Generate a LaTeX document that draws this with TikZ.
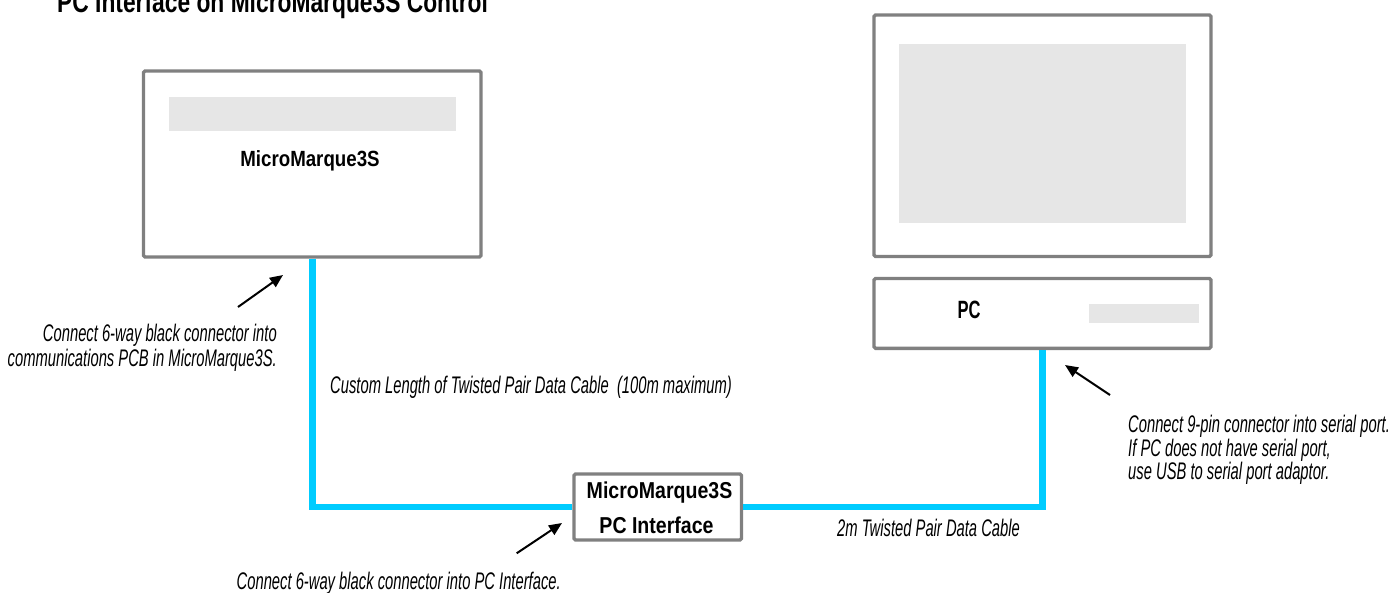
\documentclass[tikz,border=0pt]{standalone}
\usepackage{fontspec}
\setmainfont{Liberation Sans}
\newfontfamily\notefont{Liberation Sans}[FakeStretch=0.615]
\newfontfamily\condbold{Liberation Sans}[FakeStretch=0.85]
\newfontfamily\titlebold{Liberation Sans}[FakeStretch=0.76]
\newfontfamily\narrowbold{Liberation Sans}[FakeStretch=0.66]
\usetikzlibrary{arrows.meta}
\definecolor{boxgray}{RGB}{128,128,128}
\definecolor{panelgray}{RGB}{230,230,230}
\definecolor{cablecyan}{RGB}{0,204,255}
\tikzset{
  unitbox/.style={draw=boxgray, line width=3.4pt, rounded corners=1.5pt, fill=white, inner sep=0pt, minimum width=#1},
  panel/.style={fill=panelgray, draw=none, inner sep=0pt},
  cable/.style={draw=cablecyan, line width=6.7pt},
  pointer/.style={draw=black, line width=2pt, -{Triangle[length=13pt,width=11pt]}},
  note/.style={inner sep=0pt, font=\notefont\itshape\fontsize{24}{27}\selectfont},
  boxlabel/.style={inner sep=0pt, anchor=base},
}
\begin{document}
\begin{tikzpicture}[x=1pt,y=-1pt]
\useasboundingbox (0,0) rectangle (1397,592);
% title
\node[inner sep=0pt, anchor=base west, font=\titlebold\bfseries\fontsize{30}{33}\selectfont] (title) at (57,12.5) {PC Interface on MicroMarque3S Control};
% MicroMarque3S unit
\node[unitbox=337.5pt, minimum height=186pt] (mm) at (312.25,164) {};
\node[panel, minimum width=287pt, minimum height=34pt] (mmpanel) at (312.5,114) {};
\node[boxlabel, font=\condbold\bfseries\fontsize{22}{26}\selectfont] (mmlabel) at (310,166) {MicroMarque3S};
% Monitor
\node[unitbox=337pt, minimum height=241.5pt] (monitor) at (1042.5,135.75) {};
\node[panel, minimum width=287pt, minimum height=179pt] (screen) at (1042.5,133.5) {};
% PC base
\node[unitbox=337pt, minimum height=69.8pt] (pcbase) at (1042.5,313.4) {};
\node[panel, minimum width=110pt, minimum height=19pt] (slot) at (1144,313.5) {};
\node[boxlabel, font=\narrowbold\bfseries\fontsize{25}{28}\selectfont] (pclabel) at (969,318.5) {PC};
% PC interface
\node[unitbox=167.5pt, minimum height=66pt] (iface) at (657.75,507) {};
\node[boxlabel, font=\condbold\bfseries\fontsize{23}{26}\selectfont] (iflabel1) at (659.5,498.5) {MicroMarque3S};
\node[boxlabel, font=\condbold\bfseries\fontsize{23}{26}\selectfont] (iflabel2) at (656.5,533.5) {PC Interface};
% cables
\draw[cable] (mm.south) |- (iface.west);
\draw[cable] (pcbase.south) |- (iface.east);
% notes
\node[note, anchor=base east] (n1a) at (277,341) {Connect 6-way black connector into};
\node[note, anchor=base east] (n1b) at (277,366.5) {communications PCB in MicroMarque3S.};
\node[note, anchor=base west] (cablelong) at (330,393) {Custom Length of Twisted Pair Data Cable\ \ (100m maximum)};
\node[note, anchor=base west] (cableshort) at (837,536.5) {2m Twisted Pair Data Cable};
\node[note, anchor=base west] (n2) at (236.5,589) {Connect 6-way black connector into PC Interface.};
\node[note, anchor=base west] (n3a) at (1128,432.5) {Connect 9-pin connector into serial port.};
\node[note, anchor=base west] (n3b) at (1128,456) {If PC does not have serial port,};
\node[note, anchor=base west] (n3c) at (1128,479.5) {use USB to serial port adaptor.};
% pointers
\coordinate (p1t) at (238,307);
\coordinate (p1h) at (283,275);
\coordinate (p2t) at (516.7,553.3);
\coordinate (p2h) at (562,523);
\coordinate (p3t) at (1110,395);
\coordinate (p3h) at (1065,365);
\draw[pointer] (p1t) -- (p1h);
\draw[pointer] (p2t) -- (p2h);
\draw[pointer] (p3t) -- (p3h);
\end{tikzpicture}
\end{document}
